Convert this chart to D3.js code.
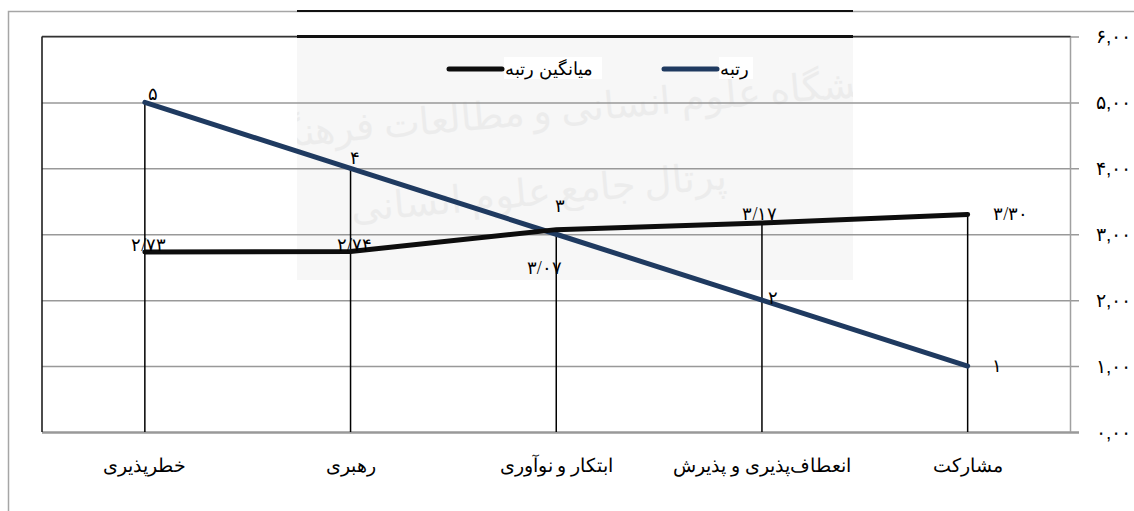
<!DOCTYPE html>
<html>
<head>
<meta charset="utf-8">
<script src="https://cdn.jsdelivr.net/npm/d3@7"></script>
<style>
  body { margin: 0; background: #fff; }
  svg { display: block; font-family: 'Liberation Serif', 'DejaVu Serif', serif; }
</style>
</head>
<body>
<div id="chart"></div>
<script>
// data
var categories = ['خطرپذیری', 'رهبری', 'ابتکار و نوآوری', 'انعطاف‌پذیری و پذیرش', 'مشارکت'];
var rank = [5, 4, 3, 2, 1];
var meanRank = [2.73, 2.74, 3.07, 3.17, 3.30];
var yTicks = [0, 1, 2, 3, 4, 5, 6];
var seriesNames = ['رتبه', 'میانگین رتبه'];

// persian digits
function fa (s) {
    return String(s).replace(/[0-9]/g, function (d) { return '۰۱۲۳۴۵۶۷۸۹'[+d]; });
}

var W = 1134, H = 511;
var margin = { top: 36.5, right: 1070.5, bottom: 432, left: 42 };

var svg = d3.select('#chart')
    .append('svg')
    .attr('width', W)
    .attr('height', H);

var x = d3.scalePoint().domain(categories).range([margin.left, margin.right]).padding(0.5);
var y = d3.scaleLinear().domain([0, 6]).range([margin.bottom, margin.top]);

// scanned page bits: watermark tint + header lines
svg.append('defs').append('clipPath').attr('id', 'wmclip')
    .append('rect').attr('x', 297).attr('y', 37).attr('width', 556).attr('height', 243);
svg.append('rect')
    .attr('x', 297).attr('y', 37).attr('width', 556).attr('height', 243)
    .attr('fill', '#f7f7f7');
var wm = svg.append('g').attr('clip-path', 'url(#wmclip)')
    .attr('fill', '#ececec').style('font-size', '38px').attr('text-anchor', 'middle');
wm.append('text').attr('x', 590).attr('y', 120).attr('transform', 'rotate(-5,590,120)').text('پژوهشگاه علوم انسانی و مطالعات فرهنگی');
wm.append('text').attr('x', 540).attr('y', 205).attr('transform', 'rotate(-5,540,205)').text('پرتال جامع علوم انسانی');

// outer chart border
svg.append('path')
    .attr('d', 'M8.5,' + H + 'V11.5H' + W)
    .attr('fill', 'none')
    .attr('stroke', '#a6a6a6')
    .attr('stroke-width', 1.5);
svg.append('line').attr('x1', 297).attr('x2', 853).attr('y1', 11).attr('y2', 11)
    .attr('stroke', '#111').attr('stroke-width', 2);

// y axis on the right, ticks used as gridlines
var y_axis = d3.axisRight(y)
    .tickValues(yTicks)
    .tickSize(-(1079 - margin.left))
    .tickPadding(17)
    .tickFormat(function (d) { return fa(d3.format('.2f')(d).replace('.', ',')); });

var gy = svg.append('g')
    .attr('class', 'y axis')
    .attr('transform', 'translate(1079,0)')
    .call(y_axis);
gy.select('.domain').remove();
gy.selectAll('.tick line')
    .attr('stroke', '#999')
    .attr('stroke-width', function (d) { return d === 0 ? 2.5 : 1.5; });
gy.selectAll('.tick text')
    .attr('fill', '#000')
    .style('font-size', '19px')
    .attr('text-anchor', 'start');

// plot frame
svg.append('line').attr('x1', margin.right).attr('x2', margin.right).attr('y1', margin.top).attr('y2', margin.bottom)
    .attr('stroke', '#a0a0a0').attr('stroke-width', 1.5);
svg.append('line').attr('x1', margin.left).attr('x2', margin.left).attr('y1', margin.top).attr('y2', margin.bottom)
    .attr('stroke', '#111').attr('stroke-width', 1.5);
svg.append('line').attr('x1', margin.left).attr('x2', margin.right).attr('y1', margin.top).attr('y2', margin.top)
    .attr('stroke', '#333').attr('stroke-width', 1.5);
svg.append('line').attr('x1', 297).attr('x2', 853).attr('y1', 36.5).attr('y2', 36.5)
    .attr('stroke', '#111').attr('stroke-width', 3);

// x labels
svg.append('g')
    .selectAll('text')
    .data(categories)
    .enter()
    .append('text')
    .attr('x', function (d) { return x(d); })
    .attr('y', 472)
    .attr('text-anchor', 'middle')
    .style('font-size', '19px')
    .text(function (d) { return d; });

// drop lines from the higher point to the axis
svg.append('g')
    .selectAll('line')
    .data(categories)
    .enter()
    .append('line')
    .attr('x1', function (d) { return x(d); })
    .attr('x2', function (d) { return x(d); })
    .attr('y1', function (d, i) { return y(Math.max(rank[i], meanRank[i])); })
    .attr('y2', y(0))
    .attr('stroke', '#000')
    .attr('stroke-width', 1.5);

var line = d3.line()
    .x(function (d, i) { return x(categories[i]); })
    .y(function (d) { return y(d); });

svg.append('path')
    .datum(rank)
    .attr('d', line)
    .attr('fill', 'none')
    .attr('stroke', '#1f3a60')
    .attr('stroke-width', 5)
    .attr('stroke-linecap', 'round');

svg.append('path')
    .datum(meanRank)
    .attr('d', line)
    .attr('fill', 'none')
    .attr('stroke', '#0d0d0d')
    .attr('stroke-width', 5)
    .attr('stroke-linecap', 'round');

// rank labels
var rankOff = [[8, -9], [4, -11], [4, -29], [11, -2], [29, 0]];
svg.append('g')
    .selectAll('text')
    .data(rank)
    .enter()
    .append('text')
    .attr('x', function (d, i) { return x(categories[i]) + rankOff[i][0]; })
    .attr('y', function (d, i) { return y(d) + rankOff[i][1]; })
    .attr('dy', '0.35em')
    .attr('text-anchor', 'middle')
    .style('font-size', '18px')
    .text(function (d) { return fa(d); });

// mean labels
var meanOff = [[4, -7], [4, -7], [-12, 38], [-2, -9], [43, -1]];
svg.append('g')
    .selectAll('text')
    .data(meanRank)
    .enter()
    .append('text')
    .attr('x', function (d, i) { return x(categories[i]) + meanOff[i][0]; })
    .attr('y', function (d, i) { return y(d) + meanOff[i][1]; })
    .attr('dy', '0.35em')
    .attr('text-anchor', 'middle')
    .style('font-size', '18px')
    .text(function (d) { return fa(d3.format('.2f')(d).replace('.', '/')); });

// legend
var legend = [
    { name: seriesNames[1], color: '#0d0d0d', x: 447 },
    { name: seriesNames[0], color: '#1f3a60', x: 662 }
];
var lg = svg.append('g').selectAll('g').data(legend).enter().append('g')
    .attr('transform', function (d) { return 'translate(' + d.x + ',69)'; });
lg.append('rect')
    .attr('x', 57).attr('y', -12)
    .attr('width', function (d, i) { return i === 0 ? 98 : 34; })
    .attr('height', 22)
    .attr('fill', '#fff');
lg.append('line')
    .attr('x1', 2).attr('x2', 55)
    .attr('stroke', function (d) { return d.color; })
    .attr('stroke-width', 5)
    .attr('stroke-linecap', 'round');
lg.append('text')
    .attr('x', 58)
    .attr('dy', '0.35em')
    .style('font-size', '18px')
    .text(function (d) { return d.name; });
</script>
</body>
</html>
